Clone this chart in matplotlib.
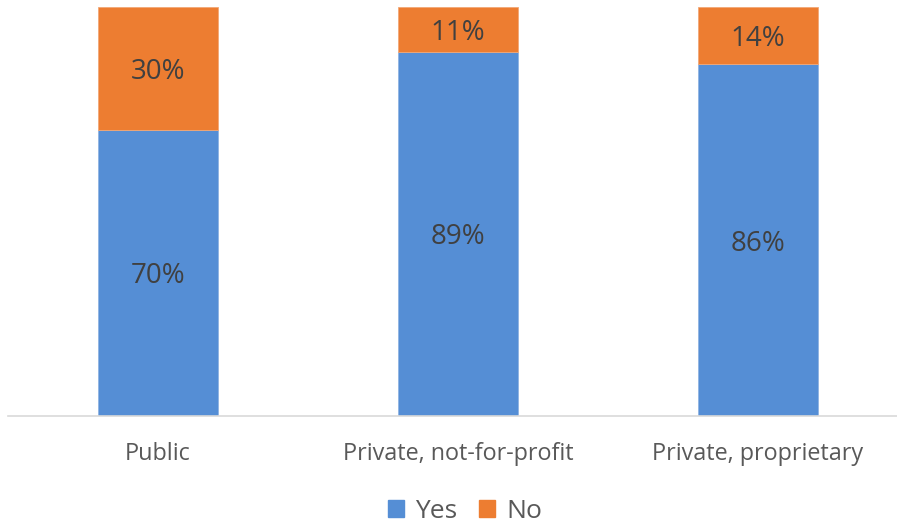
import matplotlib
matplotlib.use("Agg")
import matplotlib.pyplot as plt
from matplotlib.patches import Patch

categories = ["Public", "Private, not-for-profit", "Private, proprietary"]
yes_vals = [70, 89, 86]
no_vals = [30, 11, 14]
series_names = ["Yes", "No"]

plt.rcParams['font.family'] = ['Open Sans', 'DejaVu Sans']

W, H = 897, 525
fig = plt.figure(figsize=(W/100, H/100), dpi=100)
ax = fig.add_axes([8/W, 1-416/H, 1-8/W, (416-7)/H])

blue = "#558ED5"
orange = "#ED7D31"
x = list(range(len(categories)))
bw = 0.4
b1 = ax.bar(x, yes_vals, width=bw, color=blue, edgecolor="#8fb3e3", linewidth=0.6)
b2 = ax.bar(x, no_vals, width=bw, bottom=yes_vals, color=orange, edgecolor="#f2a877", linewidth=0.6)

for i in x:
    ax.text(i, yes_vals[i]/2, f"{yes_vals[i]}%", ha="center", va="center_baseline", fontsize=20, color="#404040")
    ax.text(i, yes_vals[i] + no_vals[i]/2, f"{no_vals[i]}%", ha="center", va="center_baseline", fontsize=20, color="#404040")

ax.set_xlim(-0.5, (W-158)/300 - 0.0)
ax.set_ylim(0, 100)
for s in ["top", "right", "left"]:
    ax.spines[s].set_visible(False)
ax.spines["bottom"].set_color("#d9d9d9")
ax.spines["bottom"].set_linewidth(1.2)
ax.set_yticks([])
ax.set_xticks(x)
ax.set_xticklabels(categories, fontsize=16.8, color="#595959")
ax.tick_params(axis="x", length=0, pad=19)

handles = [Patch(color=blue), Patch(color=orange)]
fig.legend(handles, series_names, loc="center", bbox_to_anchor=(465/W, 1-511/H), ncol=2,
           frameon=False, fontsize=19, handlelength=0.6, handleheight=0.6,
           handletextpad=0.45, columnspacing=0.8, labelcolor="#595959")

fig.savefig("out.png", dpi=100)
